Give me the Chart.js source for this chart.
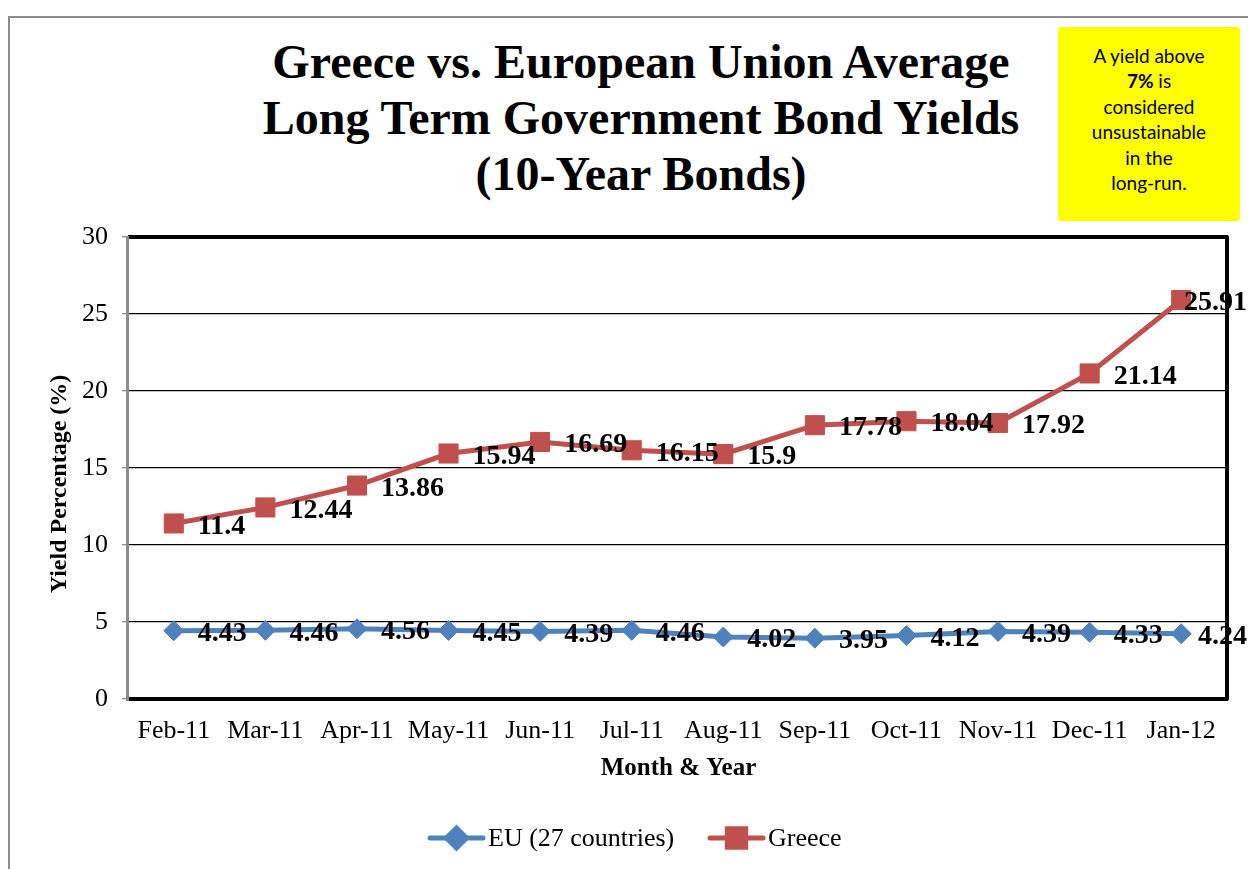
<!DOCTYPE html>
<html>
<head>
<meta charset="utf-8">
<script src="https://cdn.jsdelivr.net/npm/chart.js@4.4.1/dist/chart.umd.min.js"></script>
<style>
    html, body { margin: 0; padding: 0; background: #fff; }
    #wrap { position: relative; width: 1248px; height: 869px; overflow: hidden; }
    #frame { position: absolute; left: 8px; top: 16px; width: 1300px; height: 900px; border-left: 2px solid #8c8c8c; border-top: 2px solid #8c8c8c; }
    #title { position: absolute; left: 191px; top: 34px; width: 900px; text-align: center; font: bold 48px/56px "Liberation Serif", "Times New Roman", serif; color: #000; }
    #note { position: absolute; left: 1058px; top: 27px; width: 182px; height: 194px; background: #ffff00; border-radius: 3px; box-sizing: border-box; padding-top: 16px; text-align: center; font: 19px/25.4px Lato, "Open Sans", sans-serif; color: #000; }
    canvas { position: absolute; left: 0; top: 0; }
</style>
</head>
<body>
<div id="wrap">
    <div id="frame"></div>
    <div id="title">Greece vs. European Union Average<br>Long Term Government Bond Yields<br>(10-Year Bonds)</div>
    <div id="note">A yield above<br><b>7%</b> is<br>considered<br>unsustainable<br>in the<br>long-run.</div>
    <canvas id="chart" width="1248" height="869"></canvas>
</div>
<script>
const months = ['Feb-11', 'Mar-11', 'Apr-11', 'May-11', 'Jun-11', 'Jul-11', 'Aug-11', 'Sep-11', 'Oct-11', 'Nov-11', 'Dec-11', 'Jan-12']
const euYields = [4.43, 4.46, 4.56, 4.45, 4.39, 4.46, 4.02, 3.95, 4.12, 4.39, 4.33, 4.24]
const greeceYields = [11.4, 12.44, 13.86, 15.94, 16.69, 16.15, 15.9, 17.78, 18.04, 17.92, 21.14, 25.91]
const seriesNames = ['EU (27 countries)', 'Greece']

const BLUE = '#4F81BD'
const RED = '#C0504D'
const SERIF = '"Liberation Serif", "Times New Roman", serif'

// labels, plot frame, axis titles and legend, drawn the Excel way
const excelLook = {
    id: 'excelLook',
    afterDatasetsDraw(chart) {
        const ctx = chart.ctx
        const area = chart.chartArea
        ctx.save()
        ctx.font = `bold 28px ${SERIF}`
        ctx.fillStyle = '#000'
        ctx.textAlign = 'left'
        ctx.textBaseline = 'middle'
        chart.data.datasets.forEach((ds, i) => {
            chart.getDatasetMeta(i).data.forEach((pt, j) => {
                const txt = String(ds.data[j])
                // keep the label inside the canvas, as Excel does
                const x = Math.min(pt.x + 24, chart.width - ctx.measureText(txt).width - 1)
                ctx.fillText(txt, x, pt.y + 3)
            })
        })

        // frame
        ctx.strokeStyle = '#000'
        ctx.lineWidth = 4
        ctx.lineJoin = 'round'
        ctx.beginPath()
        ctx.moveTo(area.left, area.top)
        ctx.lineTo(area.right, area.top)
        ctx.lineTo(area.right, area.bottom)
        ctx.lineTo(area.left, area.bottom)
        ctx.stroke()
        ctx.strokeStyle = '#8c8c8c'
        ctx.lineWidth = 3
        ctx.beginPath()
        ctx.moveTo(area.left - 0.5, area.top - 1)
        ctx.lineTo(area.left - 0.5, area.bottom + 2)
        ctx.stroke()
        ctx.restore()
    },
    afterDraw(chart) {
        const ctx = chart.ctx
        const area = chart.chartArea
        ctx.save()
        ctx.fillStyle = '#000'
        ctx.textAlign = 'center'
        ctx.textBaseline = 'middle'
        ctx.font = `bold 25px ${SERIF}`
        ctx.fillText('Month & Year', (area.left + area.right) / 2 + 1, 769)
        ctx.translate(60, 484)
        ctx.rotate(-Math.PI / 2)
        ctx.font = `bold 24px ${SERIF}`
        ctx.fillText('Yield Percentage (%)', 0, 0)
        ctx.restore()

        // legend
        const items = [
            { x: 430, color: BLUE, style: 'rectRot', radius: 10 },
            { x: 710, color: RED, style: 'rect', radius: 13 }
        ]
        ctx.save()
        ctx.font = `26px ${SERIF}`
        ctx.textAlign = 'left'
        ctx.textBaseline = 'middle'
        items.forEach((it, i) => {
            const y = 838
            ctx.strokeStyle = it.color
            ctx.lineWidth = 5
            ctx.lineCap = 'round'
            ctx.beginPath()
            ctx.moveTo(it.x, y)
            ctx.lineTo(it.x + 53, y)
            ctx.stroke()
            ctx.fillStyle = it.color
            Chart.helpers.drawPoint(ctx, { pointStyle: it.style, radius: it.radius, borderWidth: 1 }, it.x + 26.5, y)
            ctx.fillStyle = '#000'
            ctx.fillText(seriesNames[i], it.x + 58, y + 1)
        })
        ctx.restore()
    }
}

new Chart(document.getElementById('chart').getContext('2d'), {
    type: 'line',
    data: {
        labels: months,
        datasets: [
            {
                label: seriesNames[0],
                data: euYields,
                borderColor: BLUE,
                backgroundColor: BLUE,
                borderWidth: 5,
                pointStyle: 'rectRot',
                pointRadius: 10,
                pointBorderWidth: 1,
                tension: 0
            },
            {
                label: seriesNames[1],
                data: greeceYields,
                borderColor: RED,
                backgroundColor: RED,
                borderWidth: 5,
                pointStyle: 'rect',
                pointRadius: 13.5,
                pointBorderWidth: 1,
                tension: 0
            }
        ]
    },
    options: {
        responsive: false,
        animation: false,
        devicePixelRatio: 1,
        layout: { autoPadding: false, padding: { left: 0, top: 237, right: 21, bottom: 0 } },
        plugins: { legend: { display: false }, title: { display: false }, tooltip: { enabled: false } },
        scales: {
            x: {
                offset: true,
                grid: { display: false, drawTicks: false },
                border: { display: false },
                ticks: { color: '#000', font: { family: SERIF, size: 26 }, padding: 17, maxRotation: 0, autoSkip: false },
                afterFit: (s) => { s.height = 170 }
            },
            y: {
                min: 0,
                max: 30,
                grid: { color: '#000', lineWidth: 1.3, tickLength: 6, tickColor: '#8c8c8c' },
                border: { display: false },
                ticks: { stepSize: 5, color: '#000', font: { family: SERIF, size: 26 }, padding: 14 },
                afterFit: (s) => { s.width = 128 }
            }
        }
    },
    plugins: [excelLook]
})
</script>
</body>
</html>
